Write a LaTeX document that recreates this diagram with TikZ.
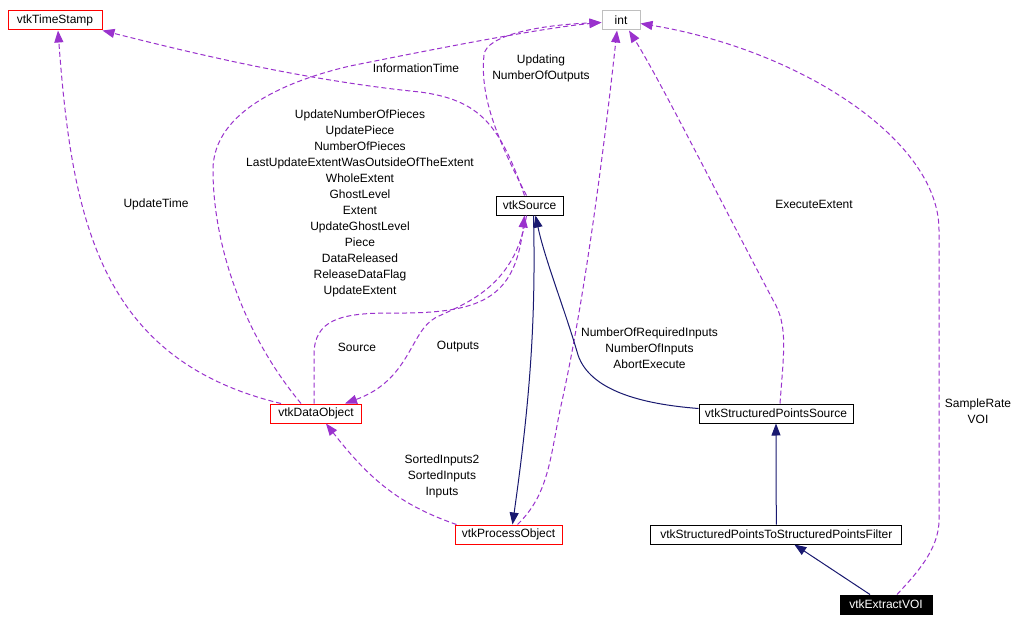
\documentclass[tikz,border=0pt]{standalone}
\usepackage{fontspec}
\setmainfont{Liberation Sans}
\usepackage{tikz}
\usetikzlibrary{arrows.meta}
\definecolor{usageC}{RGB}{154, 50, 205}
\definecolor{inheritC}{RGB}{25, 25, 112}
\definecolor{boxRed}{RGB}{255, 0, 0}
\definecolor{boxGray}{RGB}{191, 191, 191}

\begin{document}
\begin{tikzpicture}[x=1pt, y=-1pt, font=\fontsize{12}{16}\selectfont,
  cls/.style={draw, line width=1pt, minimum height=19pt, inner xsep=0pt, inner ysep=0pt},
  usage/.style={draw=usageC, line width=1pt, dash pattern=on 5pt off 3pt,
    -{Triangle[length=12pt, width=9pt]}},
  inherit/.style={draw=inheritC, line width=1pt, -{Triangle[length=12pt, width=9pt]}},
  lbl/.style={inner sep=0pt, align=center}]
  \fill[white] (0,0) rectangle (1018,626);

  % Class boxes
  \node[cls, draw=boxRed, minimum width=94pt] (stamp) at (55,20.5) {vtkTimeStamp};
  \node[cls, draw=boxGray, minimum width=38pt] (int) at (621,20.5) {int};
  \node[cls, minimum width=67pt] (source) at (529.5,205.5) {vtkSource};
  \node[cls, draw=boxRed, minimum width=91pt] (dataobj) at (316,413.5) {vtkDataObject};
  \node[cls, draw=boxRed, minimum width=107pt] (procobj) at (508.5,534.5) {vtkProcessObject};
  \node[cls, minimum width=154pt] (spsource) at (776,413.5) {vtkStructuredPointsSource};
  \node[cls, minimum width=251pt] (filter) at (776.3,534.5) {vtkStructuredPointsToStructuredPointsFilter};
  \node[cls, fill=black, text=white, minimum width=92pt] (extractvoi) at (886,604.5) {vtkExtractVOI};

  % Member labels
  \node[lbl] (lupdtime) at (156,204) {UpdateTime};
  \node[lbl] (linfotime) at (416,68) {InformationTime};
  \node[lbl] (lupdating) at (541,68) {Updating\\NumberOfOutputs};
  \node[lbl] (ldatamembers) at (360,203) {UpdateNumberOfPieces\\UpdatePiece\\NumberOfPieces\\
    LastUpdateExtentWasOutsideOfTheExtent\\WholeExtent\\GhostLevel\\Extent\\UpdateGhostLevel\\
    Piece\\DataReleased\\ReleaseDataFlag\\UpdateExtent};
  \node[lbl] (lsrc) at (357,347) {Source};
  \node[lbl] (loutputs) at (458,347) {Outputs};
  \node[lbl] (linputs) at (442,476) {SortedInputs2\\SortedInputs\\Inputs};
  \node[lbl] (lnuminputs) at (649.5,348) {NumberOfRequiredInputs\\NumberOfInputs\\AbortExecute};
  \node[lbl] (lexecext) at (814,204) {ExecuteExtent};
  \node[lbl] (lvoi) at (978,411) {SampleRate\\VOI};

  % Usage relations
  \draw[usage] ([xshift=11pt]dataobj.north west) .. controls (100,360) and (72,220) .. ([xshift=3pt]stamp.south);
  \draw[usage] ([xshift=31pt]dataobj.north west) .. controls (240,330) and (213,240) .. (213,170)
    .. controls (213,110) and (290,80) .. (350,66) .. controls (420,52) and (540,28) .. ([yshift=-2pt]int.west);
  \draw[usage] ([xshift=-5pt]source.north) .. controls (500,125) and (480,100) .. (420,92)
    .. controls (300,80) and (180,50) .. (stamp.south east);
  \draw[usage] ([xshift=-3pt]source.north) .. controls (495,135) and (480,95) .. (484,55)
    .. controls (486,35) and (540,25) .. ([yshift=-2pt]int.west);
  \draw[usage] ([xshift=-2pt]dataobj.north) -- (314,355) .. controls (314,320) and (340,313) .. (390,313)
    .. controls (480,314) and (515,300) .. ([xshift=-5pt]source.south);
  \draw[usage] ([xshift=-3pt]source.south) .. controls (515,290) and (460,305) .. (435,318)
    .. controls (410,332) and (410,380) .. ([xshift=29pt]dataobj.north);
  \draw[usage] ([xshift=2pt]procobj.north west) .. controls (400,505) and (370,480) .. ([xshift=10pt]dataobj.south);
  \draw[usage] ([xshift=9pt]procobj.north) .. controls (548,495) and (550,460) .. (560,410)
    .. controls (585,300) and (605,140) .. ([xshift=-4pt]int.south);
  \draw[usage] ([xshift=4pt]spsource.north) .. controls (784,350) and (788,325) .. (773,300)
    .. controls (720,200) and (660,80) .. ([xshift=8pt]int.south);
  \draw[usage] ([xshift=11pt]extractvoi.north) .. controls (915,575) and (939,550) .. (939,520)
    -- (939,230) .. controls (939,140) and (800,50) .. ([yshift=-3pt]int.east);

  % Inheritance
  \draw[inherit] ([xshift=4pt]source.south) .. controls (536,320) and (530,400) .. ([xshift=4pt]procobj.north);
  \draw[inherit] ([yshift=5pt]spsource.west) .. controls (640,404) and (590,390) .. (578,355)
    .. controls (565,310) and (545,260) .. ([xshift=6pt]source.south);
  \draw[inherit] (filter.north) -- (spsource.south);
  \draw[inherit] ([xshift=-16pt]extractvoi.north) -- ([xshift=18pt]filter.south);
\end{tikzpicture}
\end{document}
